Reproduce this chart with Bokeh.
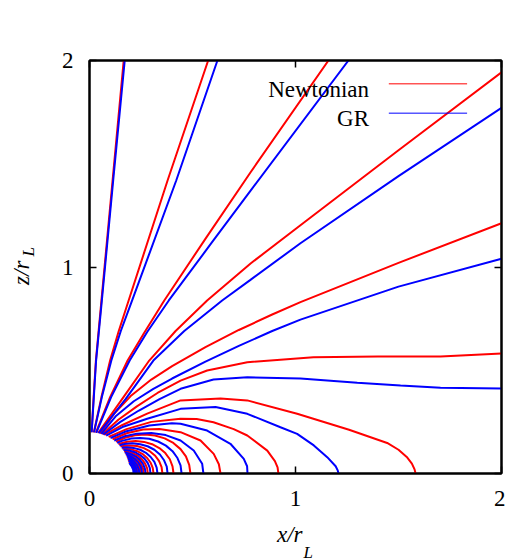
from bokeh.plotting import figure
from bokeh.models import Range1d, LinearAxis, FixedTicker, Label, Title, ColumnDataSource
from bokeh.embed import file_html
from bokeh.resources import INLINE

# ---------------- data (x/r_L , z/r_L) ----------------
# Newtonian (red) field lines: open lines
N_O1_X = [0.0105, 0.020, 0.031, 0.058, 0.112, 0.166]
N_O1_Z = [0.200, 0.37, 0.547, 0.838, 1.419, 2.0]
N_O2_X = [0.021, 0.058, 0.100, 0.142, 0.190, 0.379, 0.576]
N_O2_Z = [0.199, 0.37, 0.547, 0.69, 0.838, 1.419, 2.0]
N_O3_X = [0.031, 0.10, 0.185, 0.265, 0.363, 0.565, 0.782, 1.160]
N_O3_Z = [0.198, 0.37, 0.547, 0.68, 0.838, 1.14, 1.459, 2.0]
N_O4_X = [0.042, 0.165, 0.29, 0.418, 0.571, 0.782, 1.024, 1.5, 2.0]
N_O4_Z = [0.196, 0.37, 0.547, 0.69, 0.838, 1.017, 1.202, 1.565, 1.943]
N_O5_X = [0.052, 0.12, 0.20, 0.30, 0.401, 0.563, 0.725, 0.887, 1.024, 1.5, 2.0]
N_O5_Z = [0.193, 0.29, 0.375, 0.455, 0.52, 0.612, 0.695, 0.77, 0.83, 1.02, 1.212]
N_O6_X = [0.062, 0.14, 0.23, 0.33, 0.442, 0.571, 0.766, 1.087, 1.4, 1.704, 2.0]
N_O6_Z = [0.190, 0.26, 0.325, 0.39, 0.450, 0.499, 0.539, 0.563, 0.567, 0.567, 0.581]
# Newtonian closed lines
N_C1_X = [0.072, 0.16, 0.28, 0.442, 0.636, 0.766, 1.008, 1.26, 1.445, 1.50, 1.54, 1.565, 1.578, 1.583]
N_C1_Z = [0.187, 0.235, 0.29, 0.354, 0.363, 0.354, 0.289, 0.212, 0.148, 0.115, 0.08, 0.048, 0.02, 0.0]
N_C2_X = [0.093, 0.18, 0.30, 0.442, 0.52, 0.602, 0.70, 0.766, 0.863, 0.90, 0.913, 0.917]
N_C2_Z = [0.177, 0.215, 0.25, 0.265, 0.264, 0.248, 0.215, 0.184, 0.111, 0.06, 0.03, 0.0]
N_C3_X = [0.112, 0.18, 0.26, 0.34, 0.442, 0.539, 0.603, 0.628, 0.636]
N_C3_Z = [0.166, 0.195, 0.213, 0.216, 0.200, 0.160, 0.095, 0.045, 0.0]
N_C4_X = [0.128, 0.173, 0.220, 0.269, 0.318, 0.365, 0.407, 0.442, 0.468, 0.484, 0.490]
N_C4_Z = [0.154, 0.173, 0.185, 0.189, 0.184, 0.170, 0.148, 0.118, 0.083, 0.042, 0.0]
N_C5_X = [0.140, 0.183, 0.224, 0.265, 0.304, 0.339, 0.368, 0.390, 0.403, 0.408]
N_C5_Z = [0.143, 0.154, 0.157, 0.153, 0.142, 0.123, 0.099, 0.069, 0.035, 0.0]
N_C6_X = [0.150, 0.195, 0.230, 0.264, 0.294, 0.319, 0.338, 0.350, 0.354]
N_C6_Z = [0.132, 0.136, 0.133, 0.123, 0.107, 0.086, 0.060, 0.031, 0.0]
N_C7_X = [0.160, 0.202, 0.232, 0.258, 0.280, 0.297, 0.307, 0.311]
N_C7_Z = [0.120, 0.117, 0.108, 0.094, 0.075, 0.052, 0.027, 0.0]
N_C8_X = [0.168, 0.184, 0.211, 0.235, 0.255, 0.270, 0.280, 0.283]
N_C8_Z = [0.108, 0.106, 0.098, 0.086, 0.068, 0.048, 0.025, 0.0]
N_C9_X = [0.174, 0.196, 0.218, 0.237, 0.251, 0.260, 0.263]
N_C9_Z = [0.098, 0.091, 0.079, 0.064, 0.044, 0.023, 0.0]
N_C10_X = [0.180, 0.206, 0.224, 0.237, 0.245, 0.248]
N_C10_Z = [0.088, 0.075, 0.060, 0.042, 0.022, 0.0]
N_C11_X = [0.184, 0.196, 0.213, 0.225, 0.233, 0.236]
N_C11_Z = [0.078, 0.071, 0.057, 0.040, 0.020, 0.0]
N_C12_X = [0.188, 0.204, 0.216, 0.223, 0.226]
N_C12_Z = [0.068, 0.055, 0.038, 0.020, 0.0]
N_C13_X = [0.192, 0.204, 0.212, 0.216, 0.218]
N_C13_Z = [0.058, 0.043, 0.030, 0.015, 0.0]

# GR (blue) field lines: open lines
G_O1_X = [0.0105, 0.021, 0.032, 0.060, 0.115, 0.171]
G_O1_Z = [0.200, 0.37, 0.547, 0.838, 1.419, 2.0]
G_O2_X = [0.022, 0.060, 0.106, 0.152, 0.207, 0.421, 0.621]
G_O2_Z = [0.199, 0.37, 0.547, 0.69, 0.838, 1.419, 2.0]
G_O3_X = [0.033, 0.105, 0.195, 0.28, 0.385, 0.595, 0.782, 1.257]
G_O3_Z = [0.197, 0.37, 0.547, 0.685, 0.838, 1.12, 1.370, 2.0]
G_O4_X = [0.045, 0.175, 0.31, 0.46, 0.644, 0.778, 1.024, 1.5, 2.0]
G_O4_Z = [0.195, 0.36, 0.547, 0.69, 0.838, 0.935, 1.115, 1.44, 1.771]
G_O5_X = [0.057, 0.13, 0.215, 0.31, 0.401, 0.563, 0.725, 0.887, 1.024, 1.5, 2.0]
G_O5_Z = [0.192, 0.28, 0.35, 0.41, 0.46, 0.542, 0.618, 0.69, 0.745, 0.905, 1.040]
G_O6_X = [0.067, 0.15, 0.24, 0.34, 0.442, 0.602, 0.766, 1.024, 1.3, 1.51, 1.704, 2.0]
G_O6_Z = [0.189, 0.25, 0.305, 0.36, 0.410, 0.455, 0.466, 0.460, 0.44, 0.426, 0.415, 0.412]
# GR closed lines
G_C1_X = [0.081, 0.16, 0.28, 0.442, 0.612, 0.766, 0.927, 1.008, 1.089, 1.154, 1.195, 1.205, 1.209]
G_C1_Z = [0.183, 0.225, 0.265, 0.313, 0.322, 0.289, 0.224, 0.192, 0.136, 0.079, 0.035, 0.015, 0.0]
G_C2_X = [0.102, 0.18, 0.29, 0.40, 0.442, 0.571, 0.684, 0.749, 0.765, 0.767]
G_C2_Z = [0.172, 0.205, 0.232, 0.243, 0.241, 0.208, 0.144, 0.071, 0.035, 0.0]
G_C3_X = [0.120, 0.17, 0.23, 0.30, 0.37, 0.442, 0.506, 0.547, 0.553]
G_C3_Z = [0.160, 0.180, 0.193, 0.196, 0.186, 0.160, 0.111, 0.047, 0.0]
G_C4_X = [0.134, 0.158, 0.201, 0.246, 0.290, 0.333, 0.371, 0.403, 0.427, 0.442, 0.447]
G_C4_Z = [0.149, 0.158, 0.169, 0.172, 0.168, 0.155, 0.135, 0.108, 0.075, 0.039, 0.0]
G_C5_X = [0.145, 0.170, 0.208, 0.246, 0.282, 0.315, 0.342, 0.362, 0.375, 0.379]
G_C5_Z = [0.137, 0.143, 0.146, 0.142, 0.132, 0.115, 0.092, 0.064, 0.033, 0.0]
G_C6_X = [0.156, 0.181, 0.214, 0.246, 0.274, 0.297, 0.315, 0.326, 0.330]
G_C6_Z = [0.125, 0.127, 0.124, 0.115, 0.100, 0.080, 0.056, 0.029, 0.0]
G_C7_X = [0.165, 0.192, 0.220, 0.246, 0.267, 0.283, 0.293, 0.296]
G_C7_Z = [0.114, 0.111, 0.103, 0.089, 0.072, 0.050, 0.026, 0.0]
G_C8_X = [0.171, 0.203, 0.226, 0.245, 0.260, 0.269, 0.272]
G_C8_Z = [0.103, 0.094, 0.082, 0.066, 0.046, 0.024, 0.0]
G_C9_X = [0.177, 0.199, 0.219, 0.236, 0.248, 0.253, 0.255]
G_C9_Z = [0.093, 0.084, 0.071, 0.055, 0.035, 0.018, 0.0]
G_C10_X = [0.182, 0.201, 0.218, 0.231, 0.239, 0.242]
G_C10_Z = [0.083, 0.073, 0.058, 0.041, 0.021, 0.0]
G_C11_X = [0.186, 0.202, 0.216, 0.224, 0.229, 0.231]
G_C11_Z = [0.073, 0.062, 0.046, 0.032, 0.016, 0.0]
G_C12_X = [0.190, 0.203, 0.214, 0.220, 0.222]
G_C12_Z = [0.063, 0.051, 0.034, 0.015, 0.0]
G_C13_X = [0.193, 0.204, 0.212, 0.214]
G_C13_Z = [0.051, 0.036, 0.019, 0.0]

TICKS = [0, 1, 2]
TITLE = "FFE aligned dipole"
LEGEND_LABELS = ["Newtonian", "GR"]
COLORS = ["#ff0000", "#0000ff"]

newton_xs = [N_O1_X, N_O2_X, N_O3_X, N_O4_X, N_O5_X, N_O6_X,
             N_C1_X, N_C2_X, N_C3_X, N_C4_X, N_C5_X, N_C6_X, N_C7_X,
             N_C8_X, N_C9_X, N_C10_X, N_C11_X, N_C12_X, N_C13_X]
newton_zs = [N_O1_Z, N_O2_Z, N_O3_Z, N_O4_Z, N_O5_Z, N_O6_Z,
             N_C1_Z, N_C2_Z, N_C3_Z, N_C4_Z, N_C5_Z, N_C6_Z, N_C7_Z,
             N_C8_Z, N_C9_Z, N_C10_Z, N_C11_Z, N_C12_Z, N_C13_Z]
gr_xs = [G_O1_X, G_O2_X, G_O3_X, G_O4_X, G_O5_X, G_O6_X,
         G_C1_X, G_C2_X, G_C3_X, G_C4_X, G_C5_X, G_C6_X, G_C7_X,
         G_C8_X, G_C9_X, G_C10_X, G_C11_X, G_C12_X, G_C13_X]
gr_zs = [G_O1_Z, G_O2_Z, G_O3_Z, G_O4_Z, G_O5_Z, G_O6_Z,
         G_C1_Z, G_C2_Z, G_C3_Z, G_C4_Z, G_C5_Z, G_C6_Z, G_C7_Z,
         G_C8_Z, G_C9_Z, G_C10_Z, G_C11_Z, G_C12_Z, G_C13_Z]

FONT = "Liberation Serif"
NBSP = "\u00a0"

p = figure(frame_width=412, frame_height=413,
           x_range=Range1d(0, 2), y_range=Range1d(0, 2),
           output_backend="svg", toolbar_location=None,
           x_axis_location=None, y_axis_location=None,
           min_border_left=89, min_border_top=60,
           min_border_right=4, min_border_bottom=86)
p.background_fill_color = "white"
p.border_fill_color = "white"
p.outline_line_color = "black"
p.outline_line_width = 2
for g in p.grid:
    g.visible = False


def make_axis(standoff):
    return LinearAxis(ticker=FixedTicker(ticks=TICKS), major_tick_in=7, major_tick_out=0,
                      minor_tick_in=0, minor_tick_out=0,
                      axis_line_color="black", axis_line_width=2,
                      major_tick_line_color="black", major_tick_line_width=1.5,
                      major_label_standoff=standoff,
                      major_label_text_font=FONT,
                      major_label_text_color="black",
                      major_label_text_font_size="23px")


def mirror_axis():
    # ticks only (drawn as minor ticks, so no numbers are produced)
    return LinearAxis(ticker=FixedTicker(ticks=[], minor_ticks=TICKS),
                      major_tick_in=0, major_tick_out=0,
                      minor_tick_in=7, minor_tick_out=0,
                      minor_tick_line_color="black", minor_tick_line_width=1.5,
                      axis_line_color="black", axis_line_width=2,
                      major_label_standoff=0)


def label_axis(text, standoff):
    # an axis that only carries a title (no line, no ticks, no numbers)
    return LinearAxis(ticker=FixedTicker(ticks=[]),
                      axis_line_color=None, major_tick_line_color=None,
                      minor_tick_line_color=None,
                      major_tick_in=0, major_tick_out=0,
                      minor_tick_in=0, minor_tick_out=0,
                      major_label_standoff=0,
                      axis_label=text, axis_label_standoff=standoff,
                      axis_label_text_font=FONT,
                      axis_label_text_font_style="italic",
                      axis_label_text_font_size="23px",
                      axis_label_text_color="black")


p.add_layout(make_axis(17), "below")
p.add_layout(make_axis(16), "left")
p.add_layout(mirror_axis(), "above")
p.add_layout(mirror_axis(), "right")
p.add_layout(label_axis("x/r" + NBSP * 2, 13), "below")
p.add_layout(label_axis("z/r" + NBSP * 2, 25), "left")
# subscripts L of the axis titles
p.add_layout(Title(text="L", align="left", offset=214, standoff=-17,
                   text_font=FONT, text_font_style="italic",
                   text_font_size="17px", text_color="black"), "below")
p.add_layout(Title(text="L", align="left", offset=217, standoff=-64,
                   text_font=FONT, text_font_style="italic",
                   text_font_size="17px", text_color="black"), "left")

src_n = ColumnDataSource(dict(xs=newton_xs, ys=newton_zs))
src_g = ColumnDataSource(dict(xs=gr_xs, ys=gr_zs))
p.multi_line("xs", "ys", source=src_n, line_color=COLORS[0], line_width=2)
p.multi_line("xs", "ys", source=src_g, line_color=COLORS[1], line_width=2)

# legend (text on the left, sample line on the right)
leg_y = [1.887, 1.745]
leg_text_y = [1.858, 1.718]
for lab, col, ly, ty in zip(LEGEND_LABELS, COLORS, leg_y, leg_text_y):
    p.add_layout(Label(x=1.357, y=ty, text=lab, text_align="right",
                       text_baseline="alphabetic", text_font=FONT,
                       text_font_size="23px", text_color="black"))
    p.segment(x0=[1.453], y0=[ly], x1=[1.833], y1=[ly], line_color=col, line_width=1)

# title
p.add_layout(Label(x=1.0, y=2.184, text=TITLE, text_align="center",
                   text_baseline="alphabetic", text_font=FONT,
                   text_font_size="23px", text_color="black"))

open("out.html", "w").write(file_html(p, INLINE))
